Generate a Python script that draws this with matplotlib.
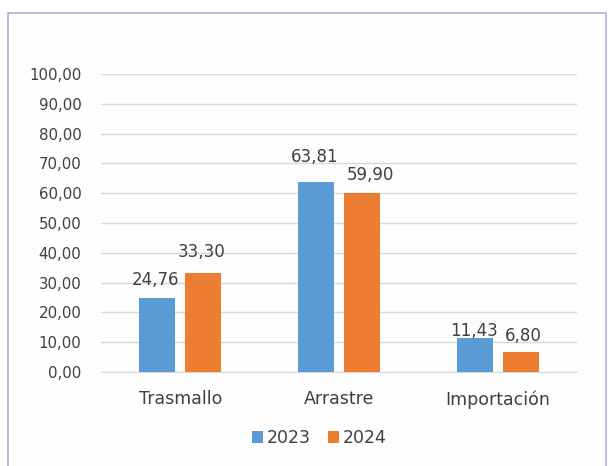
import matplotlib
matplotlib.use("Agg")
import matplotlib.pyplot as plt
from matplotlib.patches import Rectangle
import numpy as np

categories = ["Trasmallo", "Arrastre", "Importación"]
series_names = ["2023", "2024"]
values_2023 = [24.76, 63.81, 11.43]
values_2024 = [33.30, 59.90, 6.80]
value_labels_2023 = ["24,76", "63,81", "11,43"]
value_labels_2024 = ["33,30", "59,90", "6,80"]
yticks = [0, 10, 20, 30, 40, 50, 60, 70, 80, 90, 100]
ytick_labels = ["0,00", "10,00", "20,00", "30,00", "40,00", "50,00",
                "60,00", "70,00", "80,00", "90,00", "100,00"]

# label placement (pixel offsets of label centre from bar top centre)
lab_off_2023 = [(-1.5, 20.5), (-1, 26.5), (-1, 8.5)]
lab_off_2024 = [(-1.5, 23), (8, 20), (3, 18)]

plt.rcParams['font.family'] = ['DejaVu Sans']

W, H = 615, 466
fig = plt.figure(figsize=(W/100, H/100), dpi=100)
fig.patch.set_facecolor("white")
fig.patches.append(Rectangle((8/W, -0.05), (606-8)/W, 1 - 13/H + 0.05,
                             transform=fig.transFigure, facecolor="#fdfdfd",
                             edgecolor="#a9b5d8", linewidth=1.2, zorder=-10))

ax = fig.add_axes([101/W, 1 - 372/H, 476/W, (372-74)/H])
ax.set_facecolor("none")
ax.set_zorder(1)

blue = "#5b9bd5"
orange = "#ed7d31"
txt = "#404040"
x = np.arange(len(categories))
w = 0.225
off = 0.145
b1 = ax.bar(x - off, values_2023, width=w, color=blue, label=series_names[0], zorder=3)
b2 = ax.bar(x + off, values_2024, width=w, color=orange, label=series_names[1], zorder=3)

px = 0.72  # points per pixel
for bars, labs, offs in ((b1, value_labels_2023, lab_off_2023),
                         (b2, value_labels_2024, lab_off_2024)):
    for rect, lab, (dx, dy) in zip(bars, labs, offs):
        ax.annotate(lab, (rect.get_x() + rect.get_width()/2, rect.get_height()),
                    xytext=(dx*px, dy*px), textcoords="offset points",
                    ha="center", va="center_baseline", fontsize=12, color=txt,
                    zorder=4, annotation_clip=False)

ax.set_ylim(0, 100)
ax.set_xlim(-0.5, 2.5)
ax.set_yticks(yticks)
ax.set_yticklabels(ytick_labels)
ax.set_xticks(x)
ax.set_xticklabels(categories, fontsize=12.5)
ax.yaxis.grid(True, color="#d9d9d9", linewidth=1.0, zorder=0)
ax.set_axisbelow(True)
for s in ["top", "right", "left"]:
    ax.spines[s].set_visible(False)
ax.spines["bottom"].set_color("#d9d9d9")
ax.tick_params(axis="both", length=0, colors=txt)
ax.tick_params(axis="y", pad=14, labelsize=10.8)
ax.tick_params(axis="x", pad=13)

leg = fig.legend(handles=[b1, b2], labels=series_names, loc="center",
                 bbox_to_anchor=(319/W, 1 - 438/H), ncol=2, frameon=False,
                 fontsize=12.5, handlelength=0.64, handleheight=0.64,
                 handletextpad=0.2, columnspacing=1.0)
for t in leg.get_texts():
    t.set_color(txt)

fig.savefig("out.png", dpi=100, facecolor=fig.get_facecolor())
